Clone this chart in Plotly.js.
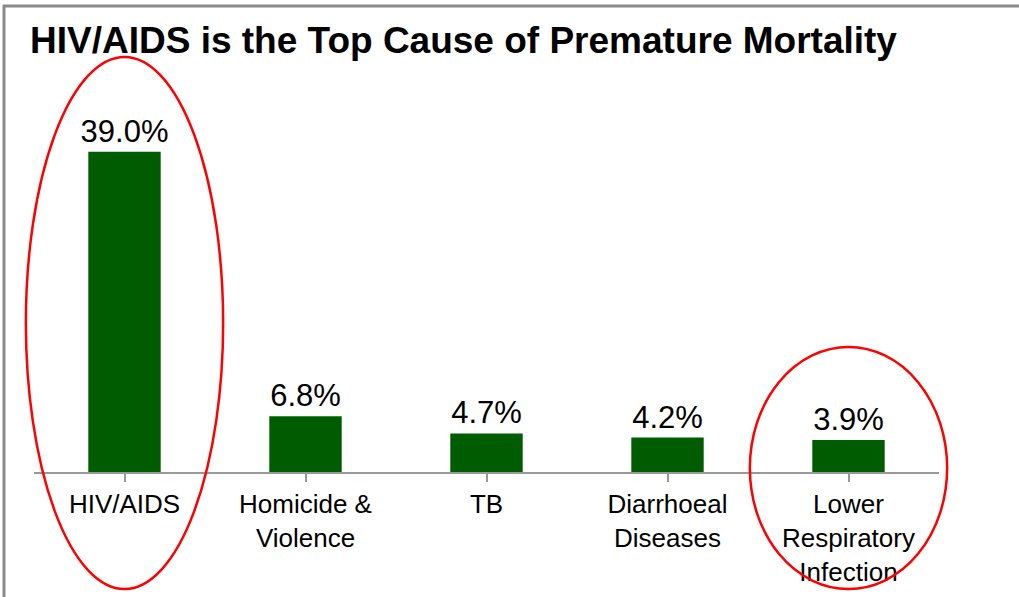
<!DOCTYPE html>
<html>
<head>
<meta charset="utf-8">
<script src="https://cdn.plot.ly/plotly-3.0.1.min.js"></script>
<style>html,body{margin:0;padding:0;background:#fff;}#chart{width:1019px;height:597px;}</style>
</head>
<body>
<div id="chart"></div>
<script>
const categories = ["HIV/AIDS", "Homicide &<br>Violence", "TB", "Diarrhoeal<br>Diseases", "Lower<br>Respiratory<br>Infection"];
const values = [39.0, 6.8, 4.7, 4.2, 3.9];
const highlighted = [0, 4];
const chartTitle = "HIV/AIDS is the Top Cause of Premature Mortality";

const W = 1019, H = 597;
const M = {l: 34, r: 80, t: 127, b: 125};
const pw = W - M.l - M.r, ph = H - M.t - M.b;
const xr = [-0.5, categories.length - 0.5];
function px2paperX(p) { return (p - M.l) / pw; }
function py2paperY(p) { return (H - M.b - p) / ph; }
function catToPaper(i) { return (i - xr[0]) / (xr[1] - xr[0]); }

const shapes = [];
// frame
shapes.push({type: 'line', xref: 'paper', yref: 'paper', x0: px2paperX(3), x1: px2paperX(1019), y0: py2paperY(6), y1: py2paperY(6), line: {color: '#8a8a8a', width: 3}});
shapes.push({type: 'line', xref: 'paper', yref: 'paper', x0: px2paperX(4), x1: px2paperX(4), y0: py2paperY(5), y1: py2paperY(597), line: {color: '#8a8a8a', width: 3}});
// highlight ellipses
const ellipseTops = {0: 57, 4: 347};
highlighted.forEach(i => {
  const c = catToPaper(i);
  const halfW = 0.545 / (xr[1] - xr[0]);
  shapes.push({type: 'circle', xref: 'paper', yref: 'paper',
    x0: c - halfW, x1: c + halfW,
    y0: py2paperY(589), y1: py2paperY(ellipseTops[i]),
    line: {color: '#ff0000', width: 2.5}, fillcolor: 'rgba(0,0,0,0)', layer: 'above'});
});

const trace = {
  type: 'bar',
  x: categories.map((c, i) => i),
  y: values,
  width: 0.4,
  marker: {color: '#005c00', line: {width: 0}},
  text: values.map(v => v.toFixed(1) + '%'),
  textposition: 'outside',
  constraintext: 'none',
  textfont: {family: 'Liberation Sans, Arial, sans-serif', size: 31, color: '#000'},
  cliponaxis: false,
  hoverinfo: 'none'
};

const layout = {
  width: W, height: H,
  margin: M,
  paper_bgcolor: '#fff', plot_bgcolor: '#fff',
  showlegend: false,
  title: {text: '<b>' + chartTitle + '</b>', xref: 'container', yref: 'container', x: 30 / W, xanchor: 'left', y: 1 - 40 / H, yanchor: 'middle',
    font: {family: 'Liberation Sans, Arial, sans-serif', size: 37, color: '#000'}},
  xaxis: {
    range: xr, tickmode: 'array', tickvals: categories.map((c, i) => i), ticktext: categories,
    showline: true, linecolor: '#999', linewidth: 2,
    ticks: 'outside', tickson: 'boundaries', ticklen: 8, tickcolor: '#999', tickwidth: 2,
    ticklabelstandoff: 0,
    tickfont: {family: 'Liberation Sans, Arial, sans-serif', size: 26, color: '#000'},
    showgrid: false, zeroline: false, fixedrange: true
  },
  yaxis: {range: [0, 42], visible: false, showgrid: false, zeroline: false, fixedrange: true},
  shapes: shapes
};

Plotly.newPlot('chart', [trace], layout, {displayModeBar: false, staticPlot: true});
</script>
</body>
</html>
